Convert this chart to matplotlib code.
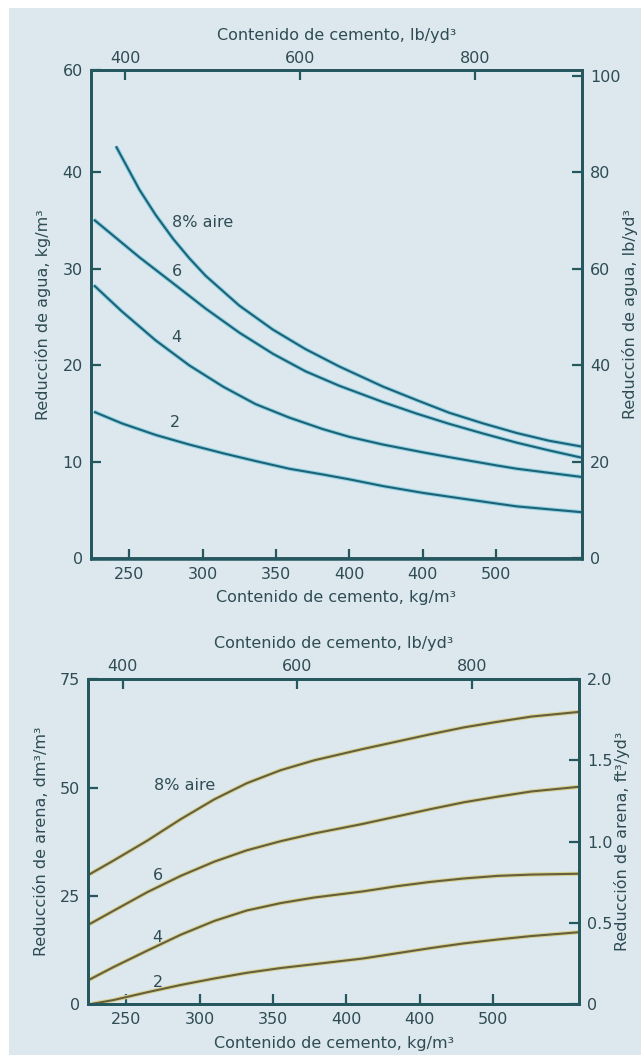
import matplotlib
matplotlib.use("Agg")
import matplotlib.pyplot as plt
import matplotlib.patheffects as pe
from matplotlib.patches import Rectangle

plt.rcParams["font.family"] = ["DejaVu Sans"]

# Reducción de agua (kg/m3) contra contenido de cemento (kg/m3)
AGUA_X_8 = [241, 257, 268, 280, 291, 302, 325, 348, 370, 393, 423, 446, 468, 491, 514, 536, 558]
AGUA_Y_8 = [42.7, 38.2, 35.6, 33.1, 31.1, 29.3, 26.2, 23.7, 21.7, 19.9, 17.8, 16.4, 15.1, 14.0, 13.0, 12.2, 11.6]
AGUA_X_6 = [226, 257, 280, 302, 325, 348, 370, 393, 423, 446, 468, 491, 514, 536, 558]
AGUA_Y_6 = [35.1, 31.2, 28.5, 25.9, 23.4, 21.2, 19.4, 17.9, 16.2, 15.0, 13.95, 12.95, 12.0, 11.2, 10.45]
AGUA_X_4 = [226, 245, 268, 291, 314, 336, 359, 382, 400, 423, 450, 468, 500, 514, 558]
AGUA_Y_4 = [28.3, 25.6, 22.6, 20.0, 17.8, 16.0, 14.6, 13.4, 12.6, 11.8, 11.0, 10.5, 9.65, 9.3, 8.45]
AGUA_X_2 = [226, 245, 268, 291, 314, 336, 359, 382, 400, 423, 450, 468, 500, 514, 558]
AGUA_Y_2 = [15.2, 14.0, 12.8, 11.8, 10.9, 10.1, 9.3, 8.7, 8.2, 7.5, 6.8, 6.4, 5.7, 5.4, 4.8]

# Reducción de arena (dm3/m3) contra contenido de cemento (kg/m3)
ARENA_X = [224, 241, 264, 287, 310, 332, 355, 378, 411, 434, 457, 480, 503, 526, 559]
ARENA_Y_8 = [29.8, 33.1, 37.7, 42.7, 47.3, 51.0, 54.0, 56.3, 58.9, 60.6, 62.3, 63.9, 65.2, 66.4, 67.5]
ARENA_Y_6 = [18.3, 21.5, 25.8, 29.6, 32.9, 35.5, 37.6, 39.4, 41.6, 43.3, 45.0, 46.6, 47.9, 49.1, 50.2]
ARENA_Y_4 = [5.5, 8.5, 12.3, 16.0, 19.2, 21.6, 23.3, 24.6, 26.0, 27.2, 28.2, 29.0, 29.6, 29.9, 30.1]
ARENA_X_2 = [226, 241, 264, 287, 310, 332, 355, 378, 411, 434, 457, 480, 503, 526, 559]
ARENA_Y_2 = [0.0, 0.9, 2.7, 4.4, 5.9, 7.2, 8.3, 9.2, 10.5, 11.7, 12.9, 14.0, 14.9, 15.7, 16.6]

# ejes
KG_TICKS = [250, 300, 350, 400, 450, 500]
KG_TICKLABELS = ["250", "300", "350", "400", "400", "500"]
LB_TICKS = [400, 600, 800]
KG_LIM = (224, 558.5)
LB_LIM = (360.5, 923)

AGUA_LIM = (0, 50.6)
AGUA_TICKS = [0, 10, 20, 30, 40, 50.6]
AGUA_TICKLABELS = ["0", "10", "20", "30", "40", "60"]
AGUA_LB_LIM = (0, 101.2)
AGUA_LB_TICKS = [0, 20, 40, 60, 80, 100]

ARENA_LIM = (0, 75.2)
ARENA_TICKS = [0, 25, 50, 75]
ARENA_FT_LIM = (0, 2.005)
ARENA_FT_TICKS = [0, 0.5, 1.0, 1.5, 2.0]
ARENA_FT_TICKLABELS = ["0", "0.5", "1.0", "1.5", "2.0"]

BG = "#dce8ee"
SPINE = "#24575e"
TEXT = "#2f4b53"
FS = 11.5


def setup_axes(ax, ylim, yticks, yticklabels, ylim_r, yticks_r, yticklabels_r,
               ylabel, ylabel_r):
    ax.set_facecolor("none")
    ax.set_xlim(*KG_LIM)
    ax.set_ylim(*ylim)
    ax.set_xticks(KG_TICKS)
    ax.set_xticklabels(KG_TICKLABELS)
    ax.set_yticks(yticks)
    ax.set_yticklabels(yticklabels)
    ax.set_xlabel("Contenido de cemento, kg/m³", fontsize=FS, color=TEXT, labelpad=6)
    ax.set_ylabel(ylabel, fontsize=FS, color=TEXT, labelpad=8)

    top = ax.twiny()
    top.set_xlim(*LB_LIM)
    top.set_xticks(LB_TICKS)
    top.set_xlabel("Contenido de cemento, lb/yd³", fontsize=FS, color=TEXT, labelpad=8)

    right = ax.twinx()
    right.set_ylim(*ylim_r)
    right.set_yticks(yticks_r)
    right.set_yticklabels(yticklabels_r)
    right.set_ylabel(ylabel_r, fontsize=FS, color=TEXT, rotation=90, labelpad=1)

    for a in (ax, top, right):
        for s in a.spines.values():
            s.set_color(SPINE)
            s.set_linewidth(1.8)
        a.tick_params(direction="in", length=7, width=1.6, color=SPINE,
                      labelcolor=TEXT, labelsize=FS, pad=6)
    top.tick_params(pad=3)
    return top, right


def draw_curve(ax, x, y, dark, light):
    ax.plot(x, y, color=dark, lw=1.5, solid_capstyle="butt", solid_joinstyle="round",
            path_effects=[pe.Stroke(linewidth=3.0, foreground=light), pe.Normal()])


fig = plt.figure(figsize=(6.41, 10.55), dpi=100)
fig.patch.set_facecolor("white")
fig.patches.append(Rectangle((9 / 641, 0), 1, 1 - 8 / 1055, transform=fig.transFigure,
                             facecolor=BG, edgecolor="none", zorder=-10))

# grafica superior: agua
ax1 = fig.add_axes([91 / 641, 1 - 558.5 / 1055, (582 - 91) / 641, (558.5 - 70) / 1055])
setup_axes(ax1, AGUA_LIM, AGUA_TICKS, AGUA_TICKLABELS, AGUA_LB_LIM, AGUA_LB_TICKS,
           [str(t) for t in AGUA_LB_TICKS],
           "Reducción de agua, kg/m³", "Reducción de agua, lb/yd³")
blue, blue_light = "#1d6276", "#8fd2e4"
draw_curve(ax1, AGUA_X_8, AGUA_Y_8, blue, blue_light)
draw_curve(ax1, AGUA_X_6, AGUA_Y_6, blue, blue_light)
draw_curve(ax1, AGUA_X_4, AGUA_Y_4, blue, blue_light)
draw_curve(ax1, AGUA_X_2, AGUA_Y_2, blue, blue_light)
ax1.text(279, 34.8, "8% aire", fontsize=FS, color=TEXT, va="center")
ax1.text(282.7, 29.7, "6", fontsize=FS, color=TEXT, ha="center", va="center")
ax1.text(281.8, 22.9, "4", fontsize=FS, color=TEXT, ha="center", va="center")
ax1.text(281.4, 14.05, "2", fontsize=FS, color=TEXT, ha="center", va="center")

# grafica inferior: arena
ax2 = fig.add_axes([88.3 / 641, 1 - 1004 / 1055, (579 - 88.3) / 641, (1004 - 678.5) / 1055])
setup_axes(ax2, ARENA_LIM, ARENA_TICKS, [str(t) for t in ARENA_TICKS],
           ARENA_FT_LIM, ARENA_FT_TICKS, ARENA_FT_TICKLABELS,
           "Reducción de arena, dm³/m³", "Reducción de arena, ft³/yd³")
olive, olive_light = "#645f3c", "#d8d192"
draw_curve(ax2, ARENA_X, ARENA_Y_8, olive, olive_light)
draw_curve(ax2, ARENA_X, ARENA_Y_6, olive, olive_light)
draw_curve(ax2, ARENA_X, ARENA_Y_4, olive, olive_light)
draw_curve(ax2, ARENA_X_2, ARENA_Y_2, olive, olive_light)
ax2.text(268.5, 50.4, "8% aire", fontsize=FS, color=TEXT, va="center")
ax2.text(271.4, 29.8, "6", fontsize=FS, color=TEXT, ha="center", va="center")
ax2.text(271.0, 15.4, "4", fontsize=FS, color=TEXT, ha="center", va="center")
ax2.text(271.4, 5.0, "2", fontsize=FS, color=TEXT, ha="center", va="center")

fig.savefig("out.png", dpi=100, facecolor=fig.get_facecolor())
